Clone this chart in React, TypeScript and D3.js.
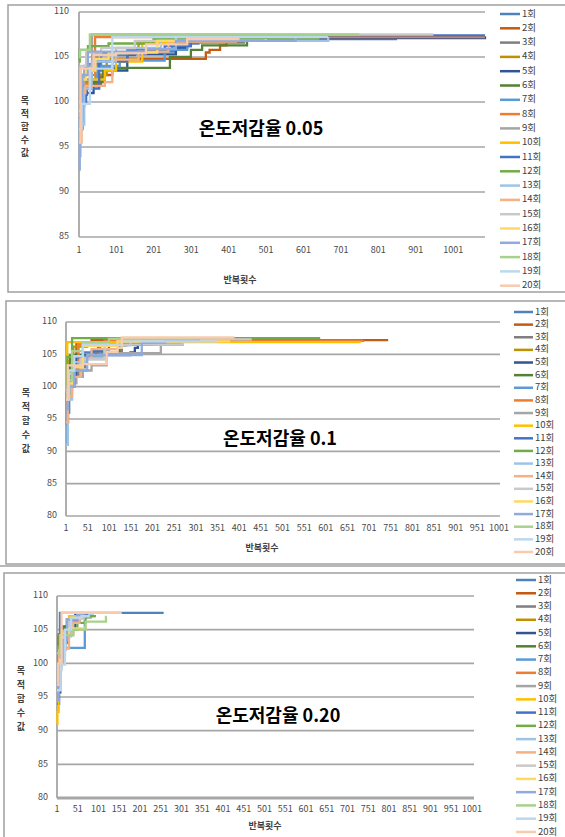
import React from "react";
import * as d3 from "d3";

type Pt = [number, number];

const seriesLabels = ["1회","2회","3회","4회","5회","6회","7회","8회","9회","10회","11회","12회","13회","14회","15회","16회","17회","18회","19회","20회"];
const seriesColors = ["#4F81BD","#C55A11","#7F7F7F","#BF9000","#2F5597","#538135","#5B9BD5","#ED7D31","#A5A5A5","#FFC000","#4472C4","#70AD47","#9DC3E6","#F4B183","#C9C9C9","#FFD966","#8FAADC","#A9D18E","#BDD7EE","#F8CBAD"];
const yTitleChars = ["목","적","함","수","값"];
const xTitle = "반복횟수";

// 온도저감율 0.05 : [iteration, objective value] step breakpoints
const runs005: Pt[][] = [
  [[1,95],[4,99],[10,100.8],[22,101.5],[35,103.5],[60,105.2],[150,105.6],[260,106.5],[320,107.0],[851,107.0]],
  [[1,99],[5,101.5],[25,102],[60,103],[90,104.8],[340,105.5],[350,105.8],[378,106.3],[395,107.2],[1086,107.2]],
  [[1,101],[8,103],[20,104.2],[50,105.5],[150,105.8],[250,106.2],[300,106.6],[445,106.6]],
  [[1,98],[8,100.5],[18,102.2],[45,103],[75,104.8],[160,106.5],[230,106.9],[520,106.9]],
  [[1,97],[10,101],[40,102.5],[70,103.5],[130,105.3],[260,106],[290,107.1],[1086,107.3]],
  [[1,99.5],[12,102],[40,102.2],[65,103.8],[244,105.0],[300,105.8],[330,106.3],[450,107.0],[470,107.0]],
  [[1,96],[6,99.5],[15,102.5],[50,104],[110,104.6],[230,105.8],[290,106.8],[600,107.2]],
  [[1,99],[4,102],[30,103],[44,107.2],[1086,107.2]],
  [[1,98.5],[5,102],[15,104],[36,107.5],[520,107.5]],
  [[1,98],[10,101.5],[30,102.5],[70,103.5],[100,104.5],[170,106.6],[260,106.9],[560,107.1]],
  [[1,97],[8,100],[20,101.5],[55,104.5],[130,105.8],[230,106.2],[300,107.4],[1086,107.4]],
  [[1,104.5],[3,105.8],[25,106.2],[80,106.5],[200,107.0],[640,107.3]],
  [[1,94],[5,97.5],[15,101.5],[35,104.5],[100,106.0],[220,106.8],[667,107.2]],
  [[1,95.5],[8,101],[18,101.8],[70,102.2],[90,104.7],[160,105.6],[240,106.7],[420,107.0]],
  [[1,100],[6,104],[20,105.5],[60,106],[150,106.8],[260,107.5],[948,107.5]],
  [[1,99],[8,102.5],[20,103.5],[45,104.8],[80,105.5],[210,106.8],[500,107.0]],
  [[1,92.5],[3,98],[10,103],[25,105.6],[180,105.9],[260,106.8],[580,107.2]],
  [[1,105],[4,105.8],[30,107.5],[750,107.5]],
  [[1,97],[8,99.8],[30,103.7],[90,107.2],[667,107.2]],
  [[1,95.5],[5,103.7],[40,105.2],[100,105.4],[180,106.4],[290,107.0],[430,107.0]],
];

// 온도저감율 0.1
const runs010: Pt[][] = [
  [[1,97],[5,101],[12,104.8],[40,105.3],[75,106.6],[110,107.3],[300,107.3]],
  [[1,94],[3,99],[10,103],[25,106.8],[60,107.2],[745,107.2]],
  [[1,98],[8,100.5],[20,101.5],[30,103],[45,104.8],[70,105.3],[130,106.5],[270,106.9]],
  [[1,100],[5,104],[18,106.2],[50,106.8],[268,106.9]],
  [[1,96],[8,101.5],[25,104.9],[150,105.3],[160,106.0],[167,106.8],[200,107.1],[386,107.2]],
  [[1,99],[10,104.8],[90,105.2],[125,106.4],[140,106.9],[230,107.3],[400,107.3]],
  [[1,91],[4,96],[8,102.5],[35,104.5],[80,106.7],[170,107.2],[350,107.2]],
  [[1,94.5],[6,99.5],[15,103],[30,106.5],[90,107.1],[687,107.2]],
  [[1,98],[10,100.5],[25,101.5],[40,102.5],[60,103.3],[95,105.2],[220,107.5],[330,107.5]],
  [[1,100.5],[4,106.9],[682,106.9]],
  [[1,96],[6,100],[20,104.5],[60,105.5],[100,106.5],[200,107.3],[310,107.3]],
  [[1,99],[4,104.6],[15,107.5],[588,107.5]],
  [[1,91],[5,98],[15,103.8],[45,104.5],[90,106.4],[150,107.2],[260,107.2]],
  [[1,94.5],[5,98.5],[15,101.5],[35,104.3],[60,105.8],[120,107.4],[300,107.4]],
  [[1,99.5],[8,102],[20,103.2],[35,104.2],[90,106.5],[270,107.3],[430,107.3]],
  [[1,99],[6,100.5],[18,103],[40,106.3],[120,107.0],[380,107.0]],
  [[1,96.5],[5,100],[20,102.5],[50,104.9],[176,106.8],[230,107.1],[310,107.1]],
  [[1,98.5],[6,101],[15,105.5],[40,106.8],[100,107.4],[300,107.4]],
  [[1,98],[8,102.5],[20,104.7],[40,106.5],[130,107.0],[350,107.0]],
  [[1,98],[5,103.3],[40,103.5],[95,105.4],[120,106.0],[130,107.6],[390,107.6]],
];

// 온도저감율 0.20
const runs020: Pt[][] = [
  [[1,98],[8,107.5],[258,107.5]],
  [[1,100],[5,104],[15,105.5],[25,106.5],[40,107.0],[60,107.0]],
  [[1,99],[10,103],[25,106.5],[40,107.0],[92,107.0]],
  [[1,97],[6,100],[12,104.5],[30,106.2],[50,106.8],[75,106.8]],
  [[1,94],[6,95.7],[9,101],[20,105],[45,107.3],[70,107.3]],
  [[1,101],[5,104.3],[20,105.5],[35,106.7],[60,107.0],[80,107.0]],
  [[1,100],[7,102.3],[68,107.1],[90,107.1]],
  [[1,102],[8,104.2],[30,106.0],[45,106.8],[70,106.8]],
  [[1,98],[8,101],[20,104],[30,106.3],[55,106.8],[85,106.8]],
  [[1,91],[2,92.8],[5,97],[10,100],[14,104.8],[30,107.0],[65,107.0]],
  [[1,95],[4,97],[10,102],[18,104.5],[30,106.5],[55,107.2],[75,107.2]],
  [[1,100.5],[4,102.5],[14,104.2],[40,105.0],[50,106.0],[70,107.0],[95,107.0]],
  [[1,96],[6,99.5],[12,102],[22,104],[35,106.6],[50,107.0],[75,107.0]],
  [[1,98],[6,102],[20,102.2],[30,104.5],[40,106.0],[55,107.1],[70,107.1]],
  [[1,99],[12,100],[18,104.5],[30,106.6],[65,107.0],[80,107.0]],
  [[1,97.5],[8,100.5],[14,104.3],[28,105.2],[70,105.5]],
  [[1,94.5],[4,96.5],[8,100],[15,103.5],[25,106.5],[50,107.2],[65,107.2]],
  [[1,101.5],[8,104.2],[40,105.0],[70,106.2],[119,106.9],[121,106.9]],
  [[1,96],[10,99.8],[20,105.0],[35,106.8],[60,107.0],[80,107.0]],
  [[1,96.8],[4,100],[12,107.5],[157,107.5]],
];

const xTicks100 = [1,101,201,301,401,501,601,701,801,901,1001];
const xTicks50 = [1,51,101,151,201,251,301,351,401,451,501,551,601,651,701,751,801,851,901,951,1001];
const yTicks1 = [85,90,95,100,105,110];
const yTicks2 = [80,85,90,95,100,105,110];

const FONT = "'Noto Sans CJK KR', 'Noto Sans', sans-serif";

type PanelCfg = {
  title: string;
  runs: Pt[][];
  frame: { x: number; y: number; w: number; h: number };
  plot: { l: number; r: number; t: number; b: number; gridR: number };
  xDomain: [number, number];
  yDomain: [number, number];
  xTicks: number[];
  yTicks: number[];
  xLabelY: number;
  yLabelX: number;
  xTitlePos: [number, number];
  yTitle: { x: number; y0: number; dy: number };
  titlePos: [number, number];
  legend: { x1: number; x2: number; tx: number; y0: number; dy: number };
  boldXAxis?: boolean;
};

function Panel({ c }: { c: PanelCfg }) {
  const x = d3.scaleLinear().domain(c.xDomain).range([c.plot.l, c.plot.r]);
  const y = d3.scaleLinear().domain(c.yDomain).range([c.plot.b, c.plot.t]);
  const line = d3.line<Pt>().x(d => x(d[0])).y(d => y(d[1])).curve(d3.curveStepAfter);
  return (
    <g>
      <rect x={c.frame.x} y={c.frame.y} width={c.frame.w} height={c.frame.h} fill="#fff" stroke="#A0A0A0" strokeWidth={1.5} />
      {c.yTicks.map(t => (
        <g key={t}>
          <line x1={c.plot.l} x2={c.plot.gridR} y1={y(t)} y2={y(t)} stroke="#A6A6A6" strokeWidth={t === c.yDomain[0] && c.boldXAxis ? 3 : 1.6} />
          <text x={c.yLabelX} y={y(t)} textAnchor="end" dominantBaseline="middle" fontSize={9} fill="#4A4A4A" fontFamily={FONT}>{t}</text>
        </g>
      ))}
      <line x1={c.plot.l} x2={c.plot.l} y1={c.plot.t} y2={c.plot.b} stroke="#A6A6A6" strokeWidth={1.8} />
      {c.xTicks.map(t => (
        <text key={t} x={x(t)} y={c.xLabelY} textAnchor="middle" dominantBaseline="middle" fontSize={9} fill="#4A4A4A" fontFamily={FONT}>{t}</text>
      ))}
      {c.runs.map((r, i) => (
        <path key={i} d={line(r) || ""} fill="none" stroke={seriesColors[i]} strokeWidth={2.3} />
      ))}
      <text x={c.xTitlePos[0]} y={c.xTitlePos[1]} textAnchor="middle" dominantBaseline="middle" fontSize={9} fontWeight="bold" fill="#404040" fontFamily={FONT}>{xTitle}</text>
      {yTitleChars.map((ch, i) => (
        <text key={i} x={c.yTitle.x} y={c.yTitle.y0 + i * c.yTitle.dy} textAnchor="middle" dominantBaseline="middle" fontSize={9} fontWeight="bold" fill="#404040" fontFamily={FONT}>{ch}</text>
      ))}
      <text x={c.titlePos[0]} y={c.titlePos[1]} textAnchor="middle" dominantBaseline="middle" fontSize={18} fontWeight="bold" fill="#000" fontFamily={FONT}>{c.title}</text>
      {seriesLabels.map((lab, i) => {
        const yy = c.legend.y0 + i * c.legend.dy;
        return (
          <g key={lab}>
            <line x1={c.legend.x1} x2={c.legend.x2} y1={yy} y2={yy} stroke={seriesColors[i]} strokeWidth={2.5} />
            <text x={c.legend.tx} y={yy} dominantBaseline="middle" fontSize={9.5} fill="#404040" fontFamily={FONT}>{lab}</text>
          </g>
        );
      })}
    </g>
  );
}

const panels: PanelCfg[] = [
  {
    title: "온도저감율 0.05", runs: runs005,
    frame: { x: 8, y: 5, w: 600, h: 287 },
    plot: { l: 79, r: 485, t: 12, b: 237, gridR: 485 },
    xDomain: [1, 1086], yDomain: [85, 110], xTicks: xTicks100, yTicks: yTicks1,
    xLabelY: 251, yLabelX: 69, xTitlePos: [240, 281],
    yTitle: { x: 25, y0: 102, dy: 13 }, titlePos: [261, 130],
    legend: { x1: 500, x2: 520, tx: 522, y0: 14, dy: 14.3 },
  },
  {
    title: "온도저감율 0.1", runs: runs010,
    frame: { x: 6, y: 301, w: 600, h: 263 },
    plot: { l: 66, r: 499, t: 322, b: 516, gridR: 500 },
    xDomain: [1, 1001], yDomain: [80, 110], xTicks: xTicks50, yTicks: yTicks2,
    xLabelY: 529, yLabelX: 57, xTitlePos: [262, 549],
    yTitle: { x: 26, y0: 394, dy: 14 }, titlePos: [280, 440],
    legend: { x1: 514, x2: 533, tx: 535, y0: 312, dy: 12.63 },
  },
  {
    title: "온도저감율 0.20", runs: runs020,
    frame: { x: 4, y: 573, w: 600, h: 300 },
    plot: { l: 57, r: 472, t: 596, b: 798, gridR: 474 },
    xDomain: [1, 1001], yDomain: [80, 110], xTicks: xTicks50, yTicks: yTicks2,
    xLabelY: 810, yLabelX: 48, xTitlePos: [265, 827],
    yTitle: { x: 21, y0: 672, dy: 14 }, titlePos: [278, 717],
    legend: { x1: 516, x2: 536, tx: 538, y0: 580, dy: 13.26 },
    boldXAxis: true,
  },
];

export default function App() {
  return (
    <svg width={565} height={837} style={{ position: "absolute", left: 0, top: 0, background: "#fff" }}>
      <rect x={0} y={0} width={565} height={837} fill="#fff" />
      <line x1={0} x2={565} y1={566} y2={566} stroke="#A0A0A0" strokeWidth={1.5} />
      {panels.map((p, i) => <Panel key={i} c={p} />)}
    </svg>
  );
}
